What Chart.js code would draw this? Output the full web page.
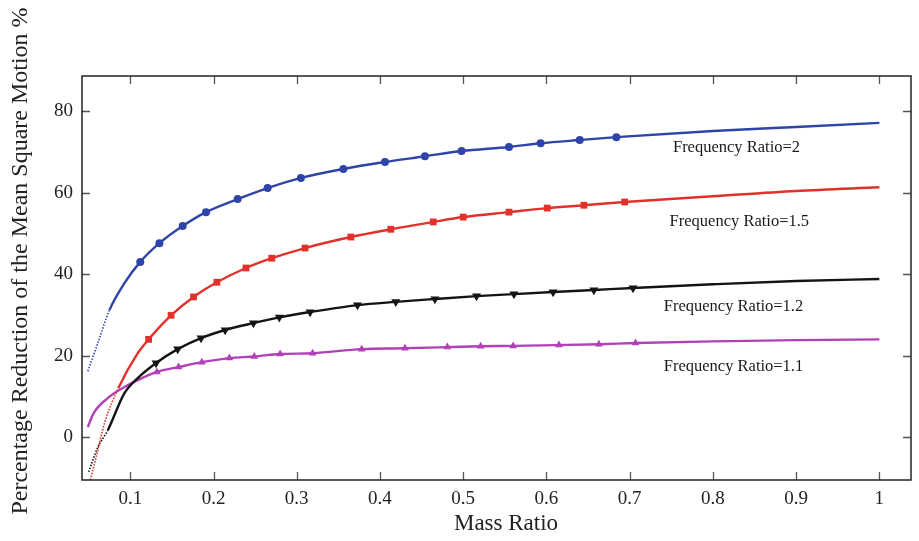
<!DOCTYPE html>
<html>
<head>
<meta charset="utf-8">
<script src="https://cdn.jsdelivr.net/npm/chart.js@4.4.1/dist/chart.umd.min.js"></script>
<style>
  html, body { margin: 0; padding: 0; background: #fff; }
  #wrap { width: 919px; height: 541px; }
</style>
</head>
<body>
<div id="wrap"><canvas id="myChart"></canvas></div>
<script>
// values (mass ratio vs % reduction)
const fr2X = [0.049, 0.061, 0.075, 0.093, 0.112, 0.135, 0.163, 0.191, 0.229, 0.265, 0.305, 0.356, 0.406, 0.454, 0.498, 0.555, 0.593, 0.640, 0.684, 0.8, 0.9, 1.0];
const fr2Y = [16.2, 23.1, 31.2, 37.8, 43.0, 47.6, 51.8, 55.2, 58.4, 61.1, 63.6, 65.8, 67.5, 68.9, 70.2, 71.2, 72.1, 72.9, 73.6, 75.1, 76.1, 77.1];

const fr15X = [0.052, 0.059, 0.069, 0.0856, 0.109, 0.122, 0.149, 0.176, 0.204, 0.239, 0.270, 0.310, 0.365, 0.413, 0.464, 0.500, 0.555, 0.601, 0.645, 0.694, 0.8, 0.9, 1.0];
const fr15Y = [-10.5, -4.9, 3.4, 12.0, 20.6, 24.0, 29.9, 34.4, 38.0, 41.5, 43.9, 46.4, 49.1, 51.0, 52.8, 54.0, 55.2, 56.2, 56.9, 57.7, 59.1, 60.4, 61.3];

const fr12X = [0.050, 0.061, 0.073, 0.093, 0.109, 0.131, 0.157, 0.185, 0.214, 0.248, 0.279, 0.316, 0.373, 0.419, 0.466, 0.516, 0.561, 0.608, 0.657, 0.704, 0.8, 0.9, 1.0];
const fr12Y = [-8.5, -2.5, 1.7, 10.8, 14.5, 18.2, 21.6, 24.3, 26.3, 28.0, 29.4, 30.7, 32.4, 33.2, 33.9, 34.6, 35.1, 35.6, 36.1, 36.6, 37.5, 38.3, 38.8];

const fr11X = [0.049, 0.056, 0.073, 0.093, 0.109, 0.132, 0.158, 0.186, 0.219, 0.249, 0.280, 0.319, 0.378, 0.430, 0.481, 0.521, 0.560, 0.615, 0.663, 0.707, 0.8, 0.9, 1.0];
const fr11Y = [2.5, 5.9, 9.6, 12.3, 14.0, 16.0, 17.2, 18.4, 19.4, 19.8, 20.4, 20.6, 21.6, 21.8, 22.1, 22.3, 22.4, 22.6, 22.8, 23.1, 23.5, 23.8, 24.0];

const seriesNames = ['Frequency Ratio=2', 'Frequency Ratio=1.5', 'Frequency Ratio=1.2', 'Frequency Ratio=1.1'];
const xTicks = [0.1, 0.2, 0.3, 0.4, 0.5, 0.6, 0.7, 0.8, 0.9, 1];
const yTicks = [0, 20, 40, 60, 80];
const xTitle = 'Mass Ratio';
const yTitle = 'Percentage Reduction of the Mean Square Motion %';

const SERIF = '"Liberation Serif", "DejaVu Serif", serif';

function pts(xs, ys) {
    return xs.map((x, i) => ({ x: x, y: ys[i] }));
}

// lead = points before first marker, last 3 points carry no marker
function makeSet(name, xs, ys, color, style, rot, radius, lead, dotUntil) {
    return {
        label: name,
        data: pts(xs, ys),
        showLine: true,
        borderColor: color,
        backgroundColor: color,
        borderWidth: 2.4,
        pointStyle: style,
        rotation: rot,
        pointRadius: xs.map((x, i) => (i < lead || i >= xs.length - 3) ? 0 : radius),
        pointBorderWidth: 0,
        cubicInterpolationMode: 'monotone',
        segment: {
            borderDash: c => c.p1.parsed.x <= dotUntil ? [1.5, 1.5] : undefined,
            borderWidth: c => c.p1.parsed.x <= dotUntil ? 1.6 : 2.4
        }
    };
}

const frame = {
    id: 'frame',
    afterDatasetsDraw(chart) {
        const { ctx, chartArea: a, scales } = chart;
        ctx.save();
        ctx.strokeStyle = '#555';
        ctx.lineWidth = 1.3;
        const tl = 8;
        ctx.beginPath();
        xTicks.forEach(v => {
            const px = Math.round(scales.x.getPixelForValue(v)) + 0.5;
            ctx.moveTo(px, a.bottom); ctx.lineTo(px, a.bottom - tl);
            ctx.moveTo(px, a.top); ctx.lineTo(px, a.top + tl);
        });
        yTicks.forEach(v => {
            const py = Math.round(scales.y.getPixelForValue(v)) + 0.5;
            ctx.moveTo(a.left, py); ctx.lineTo(a.left + tl, py);
            ctx.moveTo(a.right, py); ctx.lineTo(a.right - tl, py);
        });
        ctx.stroke();
        ctx.strokeStyle = '#222';
        ctx.lineWidth = 1.5;
        ctx.strokeRect(a.left, a.top, a.right - a.left, a.bottom - a.top);

        // series labels
        ctx.fillStyle = '#1a1a1a';
        ctx.font = '16.5px ' + SERIF;
        ctx.textAlign = 'left';
        ctx.textBaseline = 'middle';
        const spots = [[0.752, 70.9], [0.748, 52.8], [0.741, 32.1], [0.741, 17.2]];
        seriesNames.forEach((n, i) => {
            ctx.fillText(n, scales.x.getPixelForValue(spots[i][0]), scales.y.getPixelForValue(spots[i][1]));
        });

        // axis titles
        ctx.fillStyle = '#222';
        ctx.font = '23px ' + SERIF;
        ctx.textAlign = 'center';
        ctx.fillText(xTitle, 506, 524);
        ctx.font = '24px ' + SERIF;
        ctx.translate(21, 261);
        ctx.rotate(-Math.PI / 2);
        ctx.fillText(yTitle, 0, 0);
        ctx.restore();
    }
};

const ctx = document.getElementById('myChart').getContext('2d');
const myChart = new Chart(ctx, {
    type: 'scatter',
    data: {
        datasets: [
            makeSet(seriesNames[0], fr2X, fr2Y, '#2f44a8', 'circle', 0, 4, 4, 0.075),
            makeSet(seriesNames[1], fr15X, fr15Y, '#e2312a', 'rect', 0, 4.8, 5, 0.086),
            makeSet(seriesNames[2], fr12X, fr12Y, '#141414', 'triangle', 180, 5.2, 5, 0.073),
            makeSet(seriesNames[3], fr11X, fr11Y, '#b240b8', 'triangle', 0, 4.5, 5, 0)
        ]
    },
    options: {
        responsive: true,
        maintainAspectRatio: false,
        animation: false,
        layout: { padding: { top: 76, right: 8, left: 0, bottom: 0 } },
        plugins: {
            legend: { display: false },
            tooltip: { enabled: false }
        },
        scales: {
            x: {
                type: 'linear',
                min: 0.042,
                max: 1.038,
                afterBuildTicks: s => { s.ticks = xTicks.map(v => ({ value: v })); },
                afterFit: s => { s.height = 61; },
                grid: { display: false },
                border: { display: false },
                ticks: {
                    color: '#222',
                    padding: 0,
                    font: { family: SERIF, size: 19 },
                    callback: v => String(v)
                }
            },
            y: {
                type: 'linear',
                min: -10.5,
                max: 88.6,
                afterBuildTicks: s => { s.ticks = yTicks.map(v => ({ value: v })); },
                afterFit: s => { s.width = 82; },
                grid: { display: false },
                border: { display: false },
                ticks: {
                    color: '#222',
                    padding: 1,
                    font: { family: SERIF, size: 19 }
                }
            }
        }
    },
    plugins: [frame]
});
</script>
</body>
</html>
